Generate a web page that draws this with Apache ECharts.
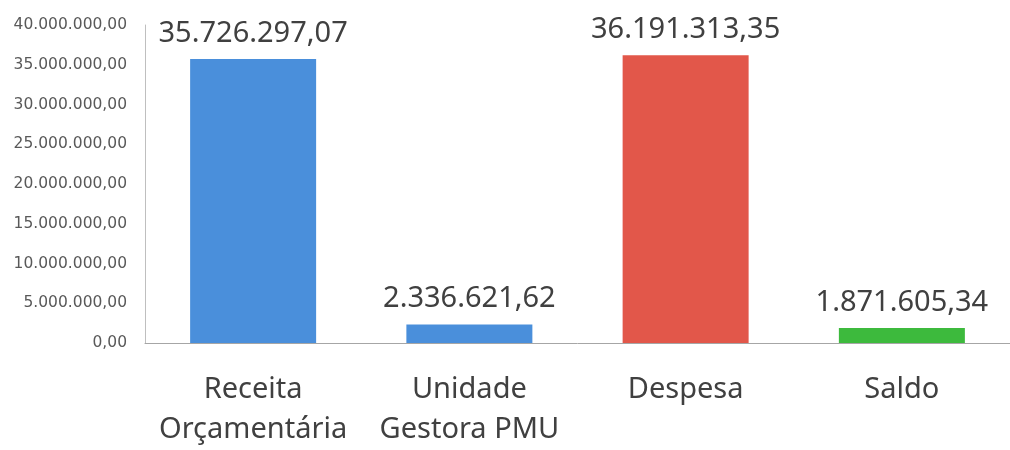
<!DOCTYPE html>
<html>
<head>
<meta charset="utf-8">
<script src="https://cdn.jsdelivr.net/npm/echarts@6/dist/echarts.min.js"></script>
<style>
html,body{margin:0;padding:0;background:#fff;}
#chart{width:1010px;height:450px;}
</style>
</head>
<body>
<div id="chart"></div>
<script>
const categories = ['Receita\nOrçamentária', 'Unidade\nGestora PMU', 'Despesa', 'Saldo'];
const values = [35726297.07, 2336621.62, 36191313.35, 1871605.34];
const barColors = ['#4a8fdb', '#4a8fdb', '#e2574a', '#3dba3d'];

function fmtBR(v) {
  const parts = Number(v).toFixed(2).split('.');
  const intPart = parts[0].replace(/\B(?=(\d{3})+(?!\d))/g, '.');
  return intPart + ',' + parts[1];
}

const chart = echarts.init(document.getElementById('chart'));
chart.setOption({
  backgroundColor: '#ffffff',
  animation: false,
  grid: { left: 145, right: -12, top: 25, bottom: 99.5, containLabel: false },
  xAxis: {
    type: 'category',
    data: categories,
    axisLine: { show: true, lineStyle: { color: '#a6a6a6', width: 1 } },
    axisTick: { show: false },
    axisLabel: {
      color: '#404040', fontFamily: 'Noto Sans', fontSize: 29,
      lineHeight: 40, margin: 27, interval: 0
    }
  },
  yAxis: {
    type: 'value',
    min: 0, max: 40000000, interval: 5000000,
    axisLine: { show: true, lineStyle: { color: '#bfbfbf', width: 1 } },
    axisTick: { show: false },
    splitLine: { show: false },
    axisLabel: {
      color: '#595959', fontFamily: 'DejaVu Sans', fontSize: 15.5, margin: 18,
      formatter: v => fmtBR(v)
    }
  },
  series: [{
    type: 'bar',
    barWidth: 126,
    data: values.map((v, i) => ({ value: v, itemStyle: { color: barColors[i] } })),
    label: {
      show: true, position: 'top', distance: 11,
      color: '#404040', fontFamily: 'Noto Sans', fontSize: 29,
      formatter: p => fmtBR(p.value)
    }
  }]
});
</script>
</body>
</html>
